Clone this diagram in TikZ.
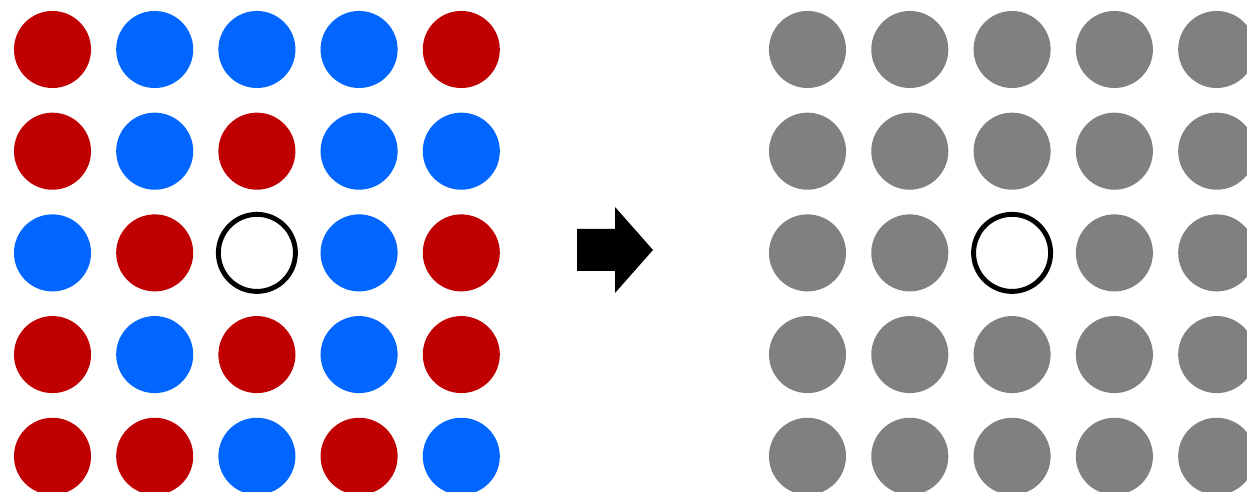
\documentclass[tikz,border=0pt]{standalone}
\usetikzlibrary{positioning}
\definecolor{dotred}{RGB}{192,0,0}
\definecolor{dotblue}{RGB}{0,102,255}
\definecolor{dotgray}{RGB}{128,128,128}

\begin{document}
\begin{tikzpicture}[
    x=0.01cm, y=-0.01cm,
    dot/.style={circle, inner sep=0pt, minimum size=0.77cm},
    reddot/.style={dot, fill=dotred},
    bluedot/.style={dot, fill=dotblue},
    graydot/.style={dot, fill=dotgray},
    hole/.style={dot, draw=black, line width=1.4pt, fill=white}
]
\useasboundingbox (0,0) rectangle (1247,492);
\clip (0,0) rectangle (1247,492);
% mixed lattice
\foreach \s [count=\k from 0] in {reddot,bluedot,bluedot,bluedot,reddot,
                                  reddot,bluedot,reddot,bluedot,bluedot,
                                  bluedot,reddot,hole,bluedot,reddot,
                                  reddot,bluedot,reddot,bluedot,reddot,
                                  reddot,reddot,bluedot,reddot,bluedot} {
    \pgfmathtruncatemacro\r{div(\k,5)}
    \pgfmathtruncatemacro\c{mod(\k,5)}
    \node[\s] (L\k) at (52.5+102.2*\c, 49.5+101.7*\r) {};
}
% averaged lattice
\foreach \s [count=\k from 0] in {graydot,graydot,graydot,graydot,graydot,
                                  graydot,graydot,graydot,graydot,graydot,
                                  graydot,graydot,hole,graydot,graydot,
                                  graydot,graydot,graydot,graydot,graydot,
                                  graydot,graydot,graydot,graydot,graydot} {
    \pgfmathtruncatemacro\r{div(\k,5)}
    \pgfmathtruncatemacro\c{mod(\k,5)}
    \node[\s] (R\k) at (807.5+102.3*\c, 49.5+101.7*\r) {};
}
% block arrow
\fill[black] (577,229) -- (615,229) -- (615,207) -- (653,250)
    -- (615,293) -- (615,271) -- (577,271) -- cycle;
\end{tikzpicture}
\end{document}
